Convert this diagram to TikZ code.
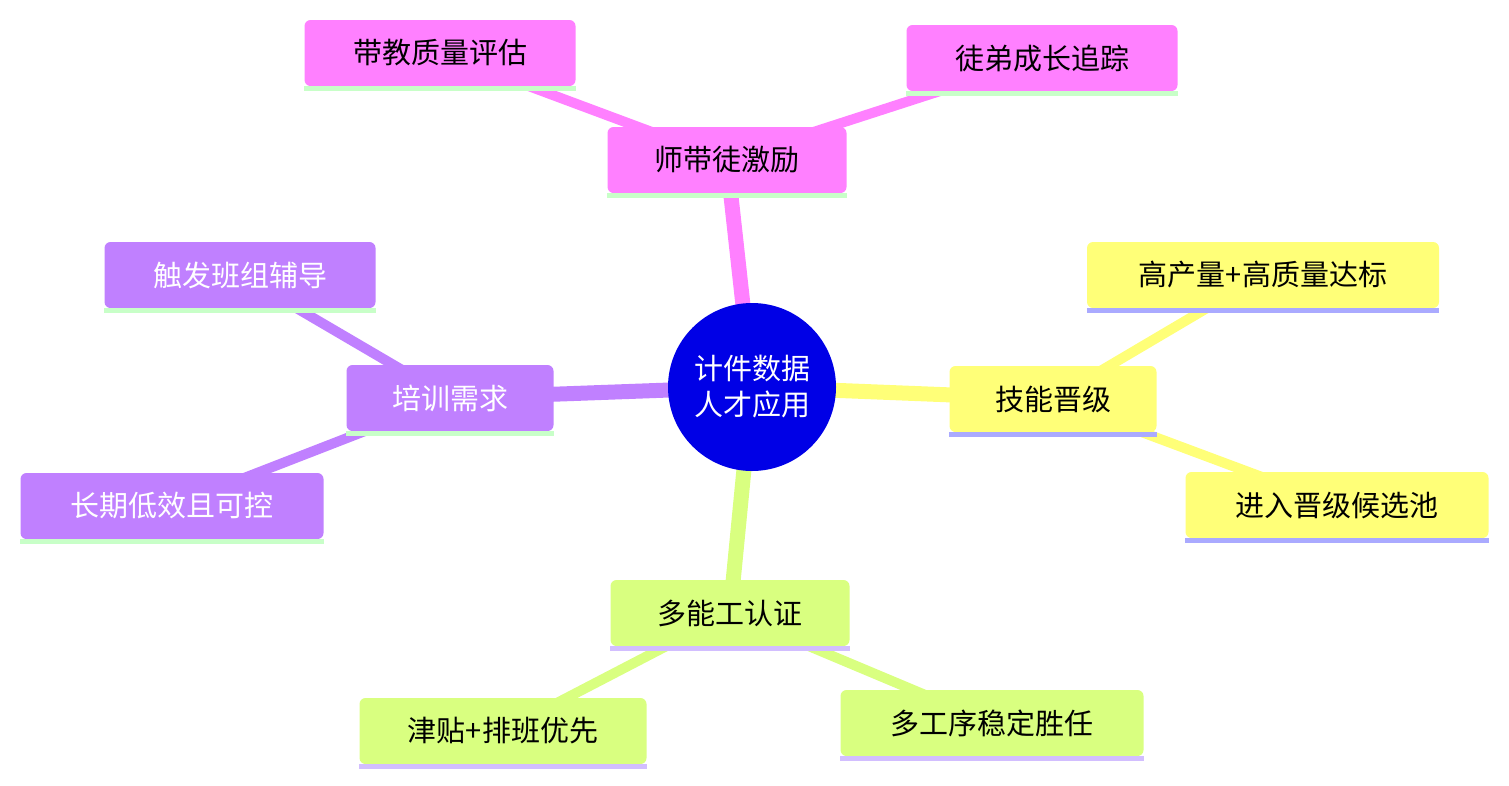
\documentclass[tikz,border=0pt]{standalone}
\usepackage{fontspec}
\setmainfont{Noto Sans CJK SC}
\pgfdeclarelayer{background}
\pgfsetlayers{background,main}
\definecolor{rootblue}{RGB}{0,0,230}
\definecolor{pinkbr}{RGB}{255,128,255}
\definecolor{yellowbr}{RGB}{255,255,120}
\definecolor{greenbr}{RGB}{217,255,128}
\definecolor{purplebr}{RGB}{192,128,255}
\definecolor{stripegreen}{RGB}{200,255,200}
\definecolor{stripeblue}{RGB}{170,170,255}
\definecolor{stripelav}{RGB}{210,190,255}
\begin{document}
\begin{tikzpicture}[x=1pt,y=-1pt,
        font=\fontsize{29}{36}\selectfont,
        box/.style={rectangle,rounded corners=6pt,minimum height=66pt,inner sep=0pt},
        trunk/.style={line width=15pt},
        twig/.style={line width=10pt}]
  \useasboundingbox (0,0) rectangle (1509,785);
  \node[circle,fill=rootblue,minimum size=168pt,align=center,text=white,inner sep=0pt] (root) at (752,387) {计件数据\\人才应用};

  \node[box,fill=pinkbr,minimum width=239pt] (mentor) at (727,160) {师带徒激励};
  \node[box,fill=pinkbr,minimum width=271pt] (quality) at (440,53) {带教质量评估};
  \node[box,fill=pinkbr,minimum width=271pt] (track) at (1042,58) {徒弟成长追踪};

  \node[box,fill=yellowbr,minimum width=207pt] (skill) at (1053,399) {技能晋级};
  \node[box,fill=yellowbr,minimum width=352pt] (target) at (1263,275) {高产量+高质量达标};
  \node[box,fill=yellowbr,minimum width=303pt] (pool) at (1337,505) {进入晋级候选池};

  \node[box,fill=greenbr,minimum width=239pt] (multi) at (730,613) {多能工认证};
  \node[box,fill=greenbr,minimum width=287pt] (bonus) at (503,731) {津贴+排班优先};
  \node[box,fill=greenbr,minimum width=303pt] (stable) at (992,723) {多工序稳定胜任};

  \node[box,fill=purplebr,minimum width=207pt,text=white] (train) at (450,398) {培训需求};
  \node[box,fill=purplebr,minimum width=271pt,text=white] (coach) at (240,275) {触发班组辅导};
  \node[box,fill=purplebr,minimum width=303pt,text=white] (low) at (172,506) {长期低效且可控};

  % branches, under the boxes
  \begin{pgfonlayer}{background}
  \foreach \a/\b/\s/\c in {root/mentor/trunk/pinkbr,mentor/quality/twig/pinkbr,mentor/track/twig/pinkbr,
      root/skill/trunk/yellowbr,skill/target/twig/yellowbr,skill/pool/twig/yellowbr,
      root/multi/trunk/greenbr,multi/bonus/twig/greenbr,multi/stable/twig/greenbr,
      root/train/trunk/purplebr,train/coach/twig/purplebr,train/low/twig/purplebr}
    \draw[\s,\c] (\a.center) -- (\b.center);
  \end{pgfonlayer}
  % under-lines
  \foreach \n/\c in {mentor/stripegreen,quality/stripegreen,track/stripegreen,
      skill/stripeblue,target/stripeblue,pool/stripeblue,
      multi/stripelav,bonus/stripelav,stable/stripelav,
      train/stripegreen,coach/stripegreen,low/stripegreen}
    \draw[\c,line width=5pt] ([yshift=-2.5pt]\n.south west) -- ([yshift=-2.5pt]\n.south east);
\end{tikzpicture}
\end{document}
